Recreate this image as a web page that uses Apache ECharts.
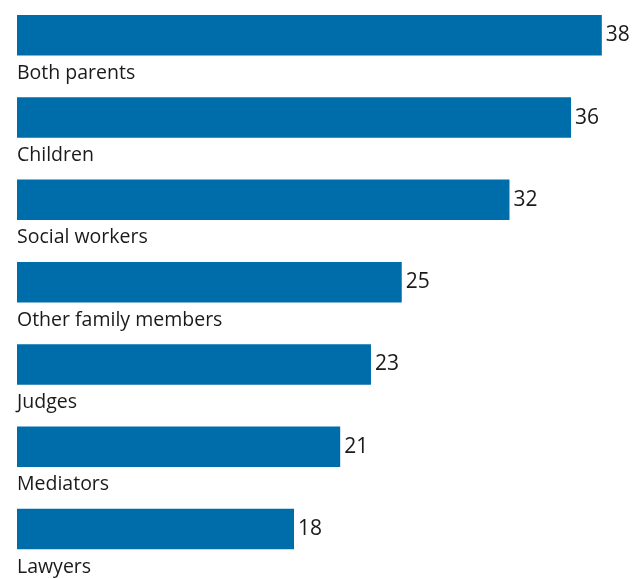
<!DOCTYPE html>
<html>
<head>
<meta charset="utf-8">
<script src="https://cdn.jsdelivr.net/npm/echarts@6/dist/echarts.min.js"></script>
<style>
html,body{margin:0;padding:0;background:#fff;}
#c{width:643px;height:579px;}
</style>
</head>
<body>
<div id="c"></div>
<script>
var categories = ['Both parents', 'Children', 'Social workers', 'Other family members', 'Judges', 'Mediators', 'Lawyers'];
var values = [38, 36, 32, 25, 23, 21, 18];

var chart = echarts.init(document.getElementById('c'), null, {renderer: 'canvas'});
var FONT = '"Open Sans"';
chart.setOption({
  animation: false,
  grid: {left: 17, right: 10.4, top: 2.9, bottom: 0, containLabel: false},
  xAxis: {type: 'value', min: 0, max: 40, show: false},
  yAxis: {type: 'category', data: categories, inverse: true, show: false},
  series: [
    {
      type: 'bar',
      data: values,
      barWidth: 40.5,
      barGap: 0,
      itemStyle: {color: '#006dab'},
      label: {
        show: true, position: 'right', distance: 4,
        fontFamily: FONT, fontSize: 21, color: '#1a1a1a'
      },
      silent: true
    },
    {
      type: 'bar',
      data: values,
      barWidth: 17.6,
      barGap: 0,
      itemStyle: {color: 'rgba(0,0,0,0)'},
      label: {
        show: true, position: 'insideLeft', distance: 0,
        formatter: '{b}', offset: [0, 9],
        fontFamily: FONT, fontSize: 19.5, color: '#1a1a1a'
      },
      silent: true
    }
  ]
});
</script>
</body>
</html>
